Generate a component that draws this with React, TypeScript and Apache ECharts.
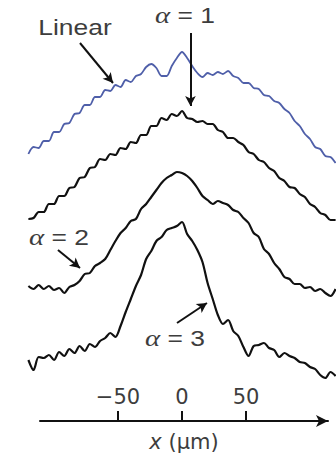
import React, { useEffect, useRef } from "react";
import * as echarts from "echarts";

// Transverse position of each sample (µm)
const xs = [
  -120, -116, -112, -108, -104, -100, -96, -92, -88, -84, -80, -76, -72, -68, -64, -60,
  -56, -52, -48, -44, -40, -36, -32, -28, -24, -20, -16, -12, -8, -4, 0, 4, 8, 12, 16,
  20, 24, 28, 32, 36, 40, 44, 48, 52, 56, 60, 64, 68, 72, 76, 80, 84, 88, 92, 96, 100,
  104, 108, 112, 116, 120,
];

// Intensity profiles (a.u.), each above its own baseline
const linearProfile = [
  16, 23, 22, 29, 29, 38, 38, 46, 47, 56, 57, 65, 65, 73, 73, 80, 79, 85, 83, 90, 88, 94,
  96, 103, 106, 102, 94, 94, 104, 112, 118, 112, 104, 97, 93, 97, 95, 98, 96, 99, 94, 92,
  87, 87, 82, 81, 75, 74, 69, 67, 61, 57, 49, 44, 36, 31, 23, 21, 14, 13, 7,
];
const alpha1Profile = [
  6, 7, 13, 13, 21, 21, 29, 29, 37, 38, 47, 48, 57, 58, 66, 65, 71, 70, 77, 76, 83, 82, 90,
  90, 99, 99, 107, 105, 111, 109, 114, 107, 106, 103, 104, 101, 101, 95, 93, 87, 87, 83,
  80, 73, 71, 65, 63, 57, 54, 47, 44, 38, 37, 31, 28, 21, 18, 12, 10, 5, 5,
];
const alpha2Profile = [
  12, 9, 13, 9, 12, 8, 10, 5, 11, 13, 17, 24, 25, 32, 35, 39, 48, 57, 65, 70, 77, 79, 89,
  94, 101, 108, 115, 120, 123, 126, 125, 122, 117, 110, 102, 98, 94, 97, 95, 93, 88, 86,
  80, 75, 65, 61, 49, 44, 35, 29, 21, 19, 14, 14, 10, 11, 7, 9, 5, 2, 9,
];
const alpha3Profile = [
  22, 12, 25, 24, 27, 22, 30, 26, 33, 29, 36, 31, 38, 35, 41, 44, 49, 45, 56, 70, 83, 96,
  107, 123, 131, 141, 145, 152, 154, 156, 160, 148, 141, 132, 120, 99, 83, 67, 58, 62, 51,
  46, 35, 26, 36, 37, 39, 34, 32, 25, 29, 26, 24, 20, 19, 15, 13, 7, 4, 10, 6,
];

// Vertical stacking offsets of the four traces (a.u.)
const offsets = [283, 228, 155, 71];
const profiles = [linearProfile, alpha1Profile, alpha2Profile, alpha3Profile];
const seriesNames = ["Linear", "α = 1", "α = 2", "α = 3"];
const seriesColors = ["#4f5fa9", "#111111", "#111111", "#111111"];

// Axis ticks
const tickValues = [-50, 0, 50];
const tickLabels = ["−50", "0", "50"];

// Annotation arrows: [fromX, fromY] -> [toX, toY] in data units
const arrowFrom = [
  [-79.7, 410],
  [6.6, 420],
  [-96.9, 203],
  [-3.9, 130],
];
const arrowTo = [
  [-53.9, 370],
  [6.6, 347],
  [-79.7, 185],
  [19.5, 150],
];

const FONT = "'Liberation Sans', Arial, Helvetica, sans-serif";
const AXIS_FONT = "'DejaVu Sans', 'Liberation Sans', sans-serif";
const GREEK_FONT = "'Liberation Serif', 'DejaVu Serif', serif";
const TEXT_COLOR = "#3d3d3d";

const richAlpha = {
  a: { fontFamily: GREEK_FONT, fontStyle: "italic" as const, fontSize: 24, fill: TEXT_COLOR },
};

function annotation(text: string, x: number, y: number, rich?: boolean) {
  return {
    type: "text",
    x,
    y,
    scaleX: 1.2,
    style: {
      text: rich ? `{a|α} = ${text}` : text,
      font: `22px ${FONT}`,
      fill: TEXT_COLOR,
      rich: rich ? richAlpha : undefined,
      textAlign: "center",
      textVerticalAlign: "middle",
    },
  };
}

function buildOption() {
  const series: any[] = profiles.map((p, k) => ({
    name: seriesNames[k],
    type: "line",
    xAxisIndex: 0,
    yAxisIndex: 0,
    showSymbol: false,
    smooth: 0.3,
    silent: true,
    lineStyle: { color: seriesColors[k], width: k === 0 ? 1.8 : 2.2 },
    data: xs.map((x, i) => [x, offsets[k] + p[i]]),
  }));

  series[0].markLine = {
    silent: true,
    symbol: ["none", "arrow"],
    symbolSize: [8, 10],
    label: { show: false },
    lineStyle: { color: "#111", width: 2, type: "solid" },
    data: arrowFrom.map((f, i) => [{ coord: f }, { coord: arrowTo[i] }]),
  };

  const axisRange = { min: -110.9375, max: 114.0625 };

  return {
    animation: false,
    backgroundColor: "#fff",
    grid: [
      { left: 0, right: 0, top: 0, bottom: 0 },
      { left: 40, right: 8, top: 421, height: 10 },
    ],
    xAxis: [
      { type: "value", gridIndex: 0, min: -142.1875, max: 120.3125, show: false },
      {
        type: "value",
        gridIndex: 1,
        position: "top",
        ...axisRange,
        splitLine: { show: false },
        axisLine: {
          show: true,
          onZero: false,
          symbol: ["none", "arrow"],
          symbolSize: [9, 12],
          lineStyle: { color: "#111", width: 2 },
        },
        axisTick: {
          show: true,
          inside: false,
          length: 10,
          customValues: tickValues,
          lineStyle: { color: "#111", width: 2 },
        },
        axisLabel: {
          show: true,
          customValues: tickValues,
          margin: 14,
          fontFamily: AXIS_FONT,
          fontSize: 21,
          color: TEXT_COLOR,
          formatter: (v: number) => tickLabels[tickValues.indexOf(v)] ?? "",
        },
      },
      {
        // carries only the axis title below the arrow
        type: "value",
        gridIndex: 1,
        position: "bottom",
        ...axisRange,
        axisLine: { show: false },
        axisTick: { show: false },
        axisLabel: { show: false },
        splitLine: { show: false },
        name: "{i|x} (µm)",
        nameLocation: "middle",
        nameGap: 1,
        nameTextStyle: {
          fontFamily: AXIS_FONT,
          fontSize: 21,
          color: TEXT_COLOR,
          rich: {
            i: { fontFamily: AXIS_FONT, fontStyle: "italic", fontSize: 21, color: TEXT_COLOR },
          },
        },
      },
    ],
    yAxis: [
      { type: "value", gridIndex: 0, min: 0, max: 453, show: false },
      { type: "value", gridIndex: 1, show: false },
    ],
    graphic: [
      annotation("Linear", 75, 27),
      annotation("1", 185, 15, true),
      annotation("2", 59, 237, true),
      annotation("3", 175, 338, true),
    ],
    series,
  };
}

export default function App() {
  const ref = useRef<HTMLDivElement>(null);
  useEffect(() => {
    if (!ref.current) return;
    const chart = echarts.init(ref.current, null, { renderer: "svg" });
    chart.setOption(buildOption() as any);
    return () => chart.dispose();
  }, []);
  return (
    <div
      ref={ref}
      style={{ position: "fixed", left: 0, top: 0, width: 336, height: 453, background: "#fff" }}
    />
  );
}
